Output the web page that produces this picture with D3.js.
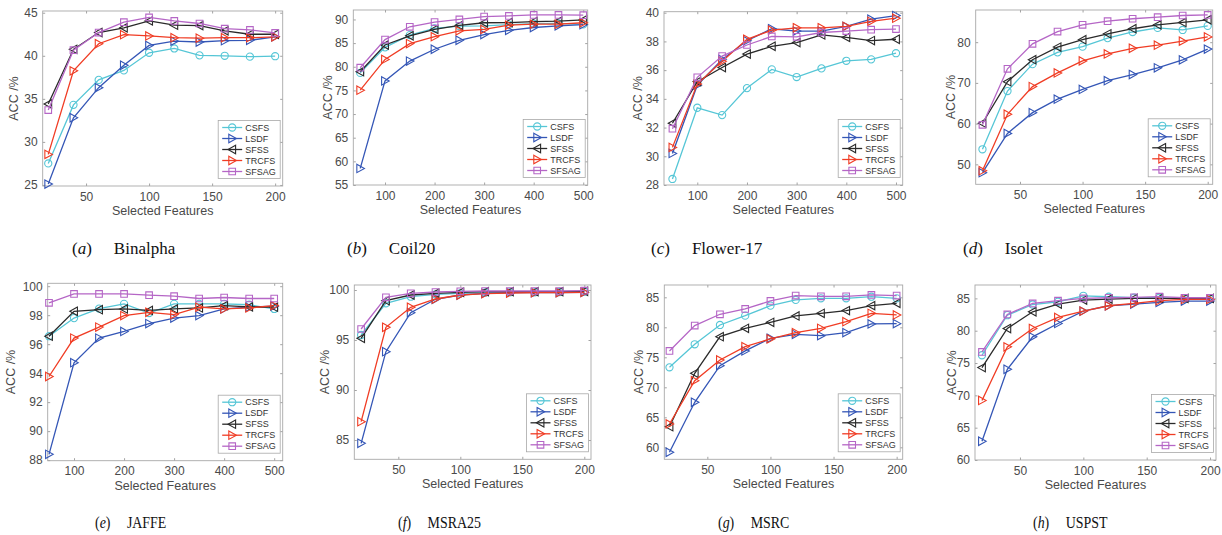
<!DOCTYPE html>
<html>
<head>
<meta charset="utf-8">
<script src="https://cdn.jsdelivr.net/npm/d3@7"></script>
<style>
  html, body { margin: 0; padding: 0; background: #fff; }
  svg { display: block; }
</style>
</head>
<body>
<svg id="chart" width="1222" height="535"></svg>
<script>
// ---------------- DATA ----------------
const methods = ["CSFS", "LSDF", "SFSS", "TRCFS", "SFSAG"];
const featuresSmall = [20, 40, 60, 80, 100, 120, 140, 160, 180, 200];
const featuresLarge = [50, 100, 150, 200, 250, 300, 350, 400, 450, 500];

// each array: rows = methods order (CSFS, LSDF, SFSS, TRCFS, SFSAG)
const accBinalpha = [
  [27.5, 34.3, 37.2, 38.3, 40.35, 40.85, 40.05, 40.0, 39.9, 39.95],
  [25.1, 32.8, 36.3, 38.9, 41.2, 41.7, 41.6, 41.75, 41.8, 42.2],
  [34.4, 40.75, 42.7, 43.25, 44.05, 43.55, 43.5, 42.9, 42.5, 42.5],
  [28.55, 38.25, 41.4, 42.45, 42.3, 42.1, 42.05, 42.1, 42.1, 42.2],
  [33.7, 40.65, 42.7, 43.9, 44.45, 44.05, 43.75, 43.15, 43.0, 42.65]
];
const accCoil20 = [
  [78.7, 84.1, 86.7, 88.1, 88.6, 88.65, 88.9, 89.1, 89.15, 88.95],
  [58.5, 77.0, 81.2, 83.7, 85.6, 86.8, 87.7, 88.3, 88.65, 88.9],
  [78.95, 84.6, 86.55, 87.9, 88.75, 89.3, 89.35, 89.55, 89.65, 89.9],
  [75.05, 81.55, 84.9, 86.35, 87.6, 87.9, 88.8, 89.0, 89.0, 89.3],
  [79.8, 85.75, 88.45, 89.45, 90.0, 90.6, 90.75, 90.95, 90.95, 90.9]
];
const accFlower17 = [
  [28.42, 33.38, 32.87, 34.75, 36.05, 35.52, 36.12, 36.65, 36.75, 37.18],
  [30.2, 34.95, 36.75, 38.05, 38.88, 38.72, 38.72, 39.05, 39.55, 39.8],
  [32.3, 35.2, 36.18, 37.12, 37.66, 37.92, 38.45, 38.28, 38.06, 38.15],
  [30.62, 35.03, 36.62, 38.15, 38.78, 38.95, 38.95, 39.05, 39.4, 39.62],
  [31.92, 35.5, 36.98, 37.75, 38.35, 38.32, 38.62, 38.72, 38.82, 38.86]
];
const accIsolet = [
  [53.7, 68.0, 74.6, 77.5, 78.9, 81.0, 82.5, 83.5, 83.0, 84.0],
  [47.95, 57.6, 62.7, 66.0, 68.4, 70.55, 72.05, 73.7, 75.65, 78.3],
  [60.1, 70.3, 75.7, 78.8, 80.6, 82.05, 83.3, 84.25, 84.85, 85.5],
  [48.45, 62.3, 69.1, 72.45, 75.4, 77.1, 78.5, 79.25, 80.25, 81.3],
  [59.7, 73.45, 79.6, 82.6, 84.25, 85.15, 85.75, 86.15, 86.55, 86.7]
];
const accJAFFE = [
  [96.55, 97.8, 98.45, 98.78, 98.15, 98.78, 98.78, 98.78, 98.72, 98.43],
  [88.4, 94.72, 96.42, 96.88, 97.42, 97.8, 97.97, 98.43, 98.55, 98.62],
  [96.55, 98.27, 98.38, 98.43, 98.33, 98.43, 98.5, 98.66, 98.57, 98.55],
  [93.77, 96.42, 97.18, 97.97, 98.2, 98.04, 98.55, 98.43, 98.5, 98.66],
  [98.85, 99.47, 99.47, 99.47, 99.38, 99.31, 99.15, 99.22, 99.15, 99.15]
];
const accMSRA25 = [
  [95.5, 98.67, 99.33, 99.57, 99.67, 99.73, 99.77, 99.77, 99.8, 99.83],
  [84.67, 93.83, 97.73, 99.07, 99.5, 99.67, 99.73, 99.73, 99.73, 99.77],
  [95.17, 98.93, 99.5, 99.67, 99.77, 99.83, 99.83, 99.83, 99.83, 99.87],
  [86.83, 96.27, 98.27, 99.1, 99.5, 99.63, 99.7, 99.73, 99.73, 99.77],
  [96.1, 99.27, 99.67, 99.8, 99.87, 99.9, 99.9, 99.9, 99.9, 99.93]
];
const accMSRC = [
  [73.33, 77.17, 80.39, 81.94, 83.61, 84.56, 84.83, 84.83, 85.1, 84.83],
  [59.17, 67.5, 73.61, 76.06, 78.17, 78.83, 78.61, 79.11, 80.56, 80.61],
  [63.44, 72.33, 78.44, 79.83, 80.83, 81.89, 82.33, 82.78, 83.61, 84.0],
  [63.89, 71.11, 74.56, 76.78, 78.06, 79.11, 79.83, 80.94, 82.33, 82.06],
  [76.06, 80.28, 82.17, 83.06, 84.39, 85.28, 85.17, 85.17, 85.39, 85.28]
];
const accUSPST = [
  [76.2, 82.4, 84.05, 84.48, 85.4, 85.25, 85.1, 85.1, 84.9, 84.9],
  [62.9, 74.03, 79.05, 81.12, 83.03, 83.86, 84.12, 84.38, 84.59, 84.59],
  [74.29, 80.34, 82.93, 84.12, 84.74, 84.9, 85.0, 85.0, 85.0, 85.0],
  [69.21, 77.5, 80.34, 82.05, 83.03, 83.86, 84.22, 84.64, 84.84, 84.84],
  [76.72, 82.52, 84.22, 84.64, 85.0, 85.1, 85.16, 85.26, 85.1, 85.1]
];

const yTicksBinalpha = [25, 30, 35, 40, 45];
const yTicksCoil20 = [55, 60, 65, 70, 75, 80, 85, 90];
const yTicksFlower17 = [28, 30, 32, 34, 36, 38, 40];
const yTicksIsolet = [50, 60, 70, 80];
const yTicksJAFFE = [88, 90, 92, 94, 96, 98, 100];
const yTicksMSRA25 = [85, 90, 95, 100];
const yTicksMSRC = [60, 65, 70, 75, 80, 85];
const yTicksUSPST = [60, 65, 70, 75, 80, 85];
const xTicksSmall = [50, 100, 150, 200];
const xTicksLarge = [100, 200, 300, 400, 500];

const captionLetters = ["a", "b", "c", "d", "e", "f", "g", "h"];
const captionNames = ["Binalpha", "Coil20", "Flower-17", "Isolet", "JAFFE", "MSRA25", "MSRC", "USPST"];

// ---------------- LAYOUT / STYLE ----------------
const panels = [
  { acc: accBinalpha, xs: featuresSmall, xt: xTicksSmall, yt: yTicksBinalpha, rect: [42.7, 11, 282.7, 186], xd: [15.6, 206], yd: [24.88, 45.2], ylab: 28, capX: 72, cy: 254 },
  { acc: accCoil20, xs: featuresLarge, xt: xTicksLarge, yt: yTicksCoil20, rect: [353.3, 10, 587.7, 185], xd: [36, 509], yd: [55, 92], ylab: 25, capX: 347, cy: 254 },
  { acc: accFlower17, xs: featuresLarge, xt: xTicksLarge, yt: yTicksFlower17, rect: [664, 11.7, 902.7, 185], xd: [33, 513.5], yd: [28, 40.07], ylab: 25, capX: 651, cy: 254 },
  { acc: accIsolet, xs: featuresSmall, xt: xTicksSmall, yt: yTicksIsolet, rect: [975.7, 10, 1212.7, 184.3], xd: [14.6, 204], yd: [45.1, 87.9], ylab: 23.5, capX: 963, cy: 254 },
  { acc: accJAFFE, xs: featuresLarge, xt: xTicksLarge, yt: yTicksJAFFE, rect: [47.7, 283.3, 282.7, 460.7], xd: [47.4, 517], yd: [87.96, 100.2], ylab: 36, capX: 95, cy: 528 },
  { acc: accMSRA25, xs: featuresSmall, xt: xTicksSmall, yt: yTicksMSRA25, rect: [354.3, 285, 591, 459.3], xd: [14.5, 205.4], yd: [83.07, 100.5], ylab: 29, capX: 398, cy: 528 },
  { acc: accMSRC, xs: featuresSmall, xt: xTicksSmall, yt: yTicksMSRC, rect: [664.3, 285, 902.7, 459.3], xd: [15.9, 204.8], yd: [58, 87.05], ylab: 24.3, capX: 718, cy: 528 },
  { acc: accUSPST, xs: featuresSmall, xt: xTicksSmall, yt: yTicksUSPST, rect: [975, 285, 1216, 460], xd: [14.5, 204.7], yd: [60, 87.07], ylab: 22.7, capX: 1033, cy: 528 }
];

const colors = ["#55c6d6", "#3456b6", "#2a2a2a", "#f03c24", "#b566c6"];
const shapes = ["circle", "rtri", "ltri", "rtri", "square"];
const sansFont = "'Liberation Sans', Arial, Helvetica, sans-serif";
const serifFont = "'Liberation Serif', 'Times New Roman', serif";

function markerPath(shape, x, y) {
  const p = d3.path();
  if (shape === "circle") {
    p.moveTo(x + 3.6, y); p.arc(x, y, 3.6, 0, 2 * Math.PI);
  } else if (shape === "square") {
    p.rect(x - 3.3, y - 3.3, 6.6, 6.6);
  } else if (shape === "rtri") {
    p.moveTo(x - 3.4, y - 4.2); p.lineTo(x + 4.2, y); p.lineTo(x - 3.4, y + 4.2); p.closePath();
  } else {
    p.moveTo(x + 3.4, y - 4.2); p.lineTo(x - 4.2, y); p.lineTo(x + 3.4, y + 4.2); p.closePath();
  }
  return p.toString();
}

const svg = d3.select("#chart");

panels.forEach((P, pi) => {
  const [L, T, R, B] = P.rect;
  const x = d3.scaleLinear().domain(P.xd).range([L, R]);
  const y = d3.scaleLinear().domain(P.yd).range([B, T]);
  const g = svg.append("g");

  const xAxis = d3.axisBottom(x).tickValues(P.xt).tickSizeInner(-2.5).tickSizeOuter(0).tickPadding(6);
  const yAxis = d3.axisLeft(y).tickValues(P.yt).tickSizeInner(-2.5).tickSizeOuter(0).tickPadding(5);
  const xTop = d3.axisTop(x).tickValues(P.xt).tickSizeInner(-2.5).tickSizeOuter(0).tickFormat("");
  const yRight = d3.axisRight(y).tickValues(P.yt).tickSizeInner(-2.5).tickSizeOuter(0).tickFormat("");

  const gx = g.append("g").attr("transform", `translate(0,${B})`).call(xAxis);
  const gy = g.append("g").attr("transform", `translate(${L},0)`).call(yAxis);
  const gxt = g.append("g").attr("transform", `translate(0,${T})`).call(xTop);
  const gyr = g.append("g").attr("transform", `translate(${R},0)`).call(yRight);
  [gx, gy, gxt, gyr].forEach(a => {
    a.select(".domain").remove();
    a.selectAll(".tick line").attr("stroke", "#8c8c8c").attr("stroke-width", 0.8);
    a.selectAll(".tick text").attr("fill", "#4a4a4a").style("font-family", sansFont).style("font-size", "12px");
  });

  g.append("rect").attr("x", L).attr("y", T).attr("width", R - L).attr("height", B - T)
    .attr("fill", "none").attr("stroke", "#a8a8a8").attr("stroke-width", 0.9);

  g.append("text").attr("x", (L + R) / 2).attr("y", B + 29).attr("text-anchor", "middle")
    .attr("fill", "#4a4a4a").style("font-family", sansFont).style("font-size", "12.5px")
    .text("Selected Features");
  g.append("text").attr("transform", `translate(${L - P.ylab},${(T + B) / 2}) rotate(-90)`)
    .attr("text-anchor", "middle").attr("dominant-baseline", "middle")
    .attr("fill", "#4a4a4a").style("font-family", sansFont).style("font-size", "12.5px")
    .text("ACC /%");

  const line = d3.line().x(d => x(d[0])).y(d => y(d[1]));
  methods.forEach((m, mi) => {
    const pts = P.xs.map((xv, k) => [xv, P.acc[mi][k]]);
    g.append("path").attr("d", line(pts)).attr("fill", "none")
      .attr("stroke", colors[mi]).attr("stroke-width", 1.3);
    g.selectAll(null).data(pts).enter().append("path")
      .attr("d", d => markerPath(shapes[mi], x(d[0]), y(d[1])))
      .attr("fill", "none").attr("stroke", colors[mi]).attr("stroke-width", 1.1);
  });

  const lw = 62, lh = 58;
  const lx = R - 2.5 - lw, ly = B - 7.5 - lh;
  const lg = g.append("g");
  lg.append("rect").attr("x", lx).attr("y", ly).attr("width", lw).attr("height", lh)
    .attr("fill", "#fff").attr("stroke", "#a8a8a8").attr("stroke-width", 0.8);
  methods.forEach((m, mi) => {
    const yy = ly + 7 + mi * 11;
    lg.append("line").attr("x1", lx + 4).attr("x2", lx + 24).attr("y1", yy).attr("y2", yy)
      .attr("stroke", colors[mi]).attr("stroke-width", 1.3);
    lg.append("path").attr("d", markerPath(shapes[mi], lx + 14, yy))
      .attr("fill", "none").attr("stroke", colors[mi]).attr("stroke-width", 1.1);
    lg.append("text").attr("x", lx + 27).attr("y", yy).attr("dominant-baseline", "central")
      .attr("fill", "#333").style("font-family", sansFont).style("font-size", "9px").text(m);
  });

  // caption (bottom row rendered slightly condensed, as in the reference)
  const bottomRow = pi >= 4;
  const sx = bottomRow ? 0.82 : 1;
  const cap = svg.append("text")
    .attr("transform", `translate(${P.capX},${P.cy}) scale(${sx},1)`)
    .attr("x", 0).attr("y", 0).attr("text-anchor", "start")
    .attr("fill", "#111").style("font-family", serifFont).style("font-size", "17px");
  cap.append("tspan").text("(");
  cap.append("tspan").style("font-style", "italic").text(captionLetters[pi]);
  cap.append("tspan").text(")");
  cap.append("tspan").attr("dx", bottomRow ? 20 : 22).text(captionNames[pi]);
});
</script>
</body>
</html>
